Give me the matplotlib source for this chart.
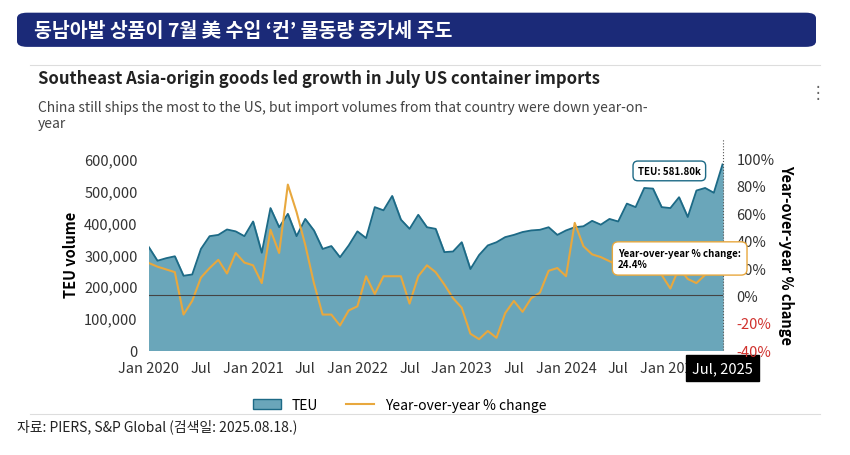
import matplotlib
matplotlib.use("Agg")
import matplotlib.pyplot as plt
from matplotlib.patches import FancyBboxPatch, Patch
from matplotlib.lines import Line2D
import numpy as np

plt.rcParams['font.family'] = ['Noto Sans CJK KR', 'DejaVu Sans']

teu = [323, 280, 288, 294, 233, 237, 317, 357, 361, 378, 372, 357,
       403, 305, 445, 385, 427, 357, 411, 375, 317, 326, 291, 328,
       372, 351, 448, 438, 483, 409, 380, 424, 385, 380, 307, 309,
       338, 254, 298, 328, 338, 354, 361, 370, 375, 377, 385, 361,
       375, 385, 388, 405, 393, 411, 403, 459, 448, 508, 506, 448,
       445, 479, 417, 500, 508, 493, 581.8]
yoy = [23.7, 21, 19, 17, -14, -4, 13, 20, 26, 16, 31, 24,
       22, 9, 48, 31, 81, 61, 37, 9, -14, -14, -22, -11,
       -8, 14, 1, 14, 14, 14, -6, 14, 22, 17, 8, -2,
       -9, -28, -32, -26, -31, -13, -4, -12, -2, 2, 18, 20,
       14, 53, 36, 30, 28, 25, 22, 25, 20, 27, 20, 15,
       5, 20, 12, 9, 15, 20, 24.4]
tick_pos = [0, 6, 12, 18, 24, 30, 36, 42, 48, 54, 60, 66]
tick_labels = ["Jan 2020", "Jul", "Jan 2021", "Jul", "Jan 2022", "Jul", "Jan 2023", "Jul",
               "Jan 2024", "Jul", "Jan 2025", "Jul, 2025"]

x = np.arange(len(teu))
teu_v = np.array(teu) * 1000

fig = plt.figure(figsize=(8.5, 4.56), dpi=100)
fig.add_artist(FancyBboxPatch((0.02, 0.895), 0.94, 0.075, boxstyle="round,pad=0,rounding_size=0.012",
                              transform=fig.transFigure, facecolor="#1b2a78", edgecolor="none"))
fig.text(0.04, 0.932, "동남아발 상품이 7월 美 수입 ‘컨’ 물동량 증가세 주도", color="white",
         fontsize=14, fontweight="bold", va="center", ha="left")

fig.text(0.045, 0.815, "Southeast Asia-origin goods led growth in July US container imports",
         fontsize=12, fontweight="bold", color="#222222")
fig.text(0.045, 0.72, "China still ships the most to the US, but import volumes from that country were down year-on-\nyear",
         fontsize=10, color="#444444", linespacing=1.15)
fig.text(0.952, 0.785, "⋮", fontsize=12, color="#666666")

ax = fig.add_axes([0.175, 0.23, 0.675, 0.42])
ax.fill_between(x, teu_v, 0, color="#6aa6ba")
ax.plot(x, teu_v, color="#1d6a86", lw=1.3)
ax.set_ylim(0, 600000)
ax.set_xlim(0, len(teu) - 1)
ax.set_yticks(np.arange(0, 600001, 100000))
ax.set_yticklabels([f"{v:,}" for v in range(0, 600001, 100000)], fontsize=10.5, color="#333333")
ax.set_ylabel("TEU volume", fontsize=10.5, fontweight="bold")
ax.set_xticks(tick_pos)
ax.set_xticklabels(tick_labels, fontsize=10.5, color="#333333")
for s in ax.spines.values():
    s.set_visible(False)
ax.tick_params(length=0)
ax.tick_params(axis='x', pad=8)
ax.tick_params(axis='y', pad=8)
ax.axvline(len(teu) - 1, color="#555555", lw=0.8, ls=":", clip_on=False, ymin=0, ymax=1.1)

ax2 = ax.twinx()
ax2.plot(x, yoy, color="#e8a83e", lw=1.5)
ax2.set_ylim(-40, 100)
ax2.set_yticks(np.arange(-40, 101, 20))
ax2.set_yticklabels([f"{v}%" for v in range(-40, 101, 20)], fontsize=10.5)
for t, v in zip(ax2.get_yticklabels(), range(-40, 101, 20)):
    t.set_color("#d0312d" if v < 0 else "#333333")
ax2.axhline(0, color="#444444", lw=0.8)
ax2.set_ylabel("Year-over-year % change", fontsize=10.5, fontweight="bold", rotation=270, labelpad=14)
for s in ax2.spines.values():
    s.set_visible(False)
ax2.tick_params(length=0, pad=10)

ax2.annotate("TEU: 581.80k", xy=(len(teu) - 1, 91), xytext=(len(teu) - 3.5, 91),
             fontsize=7, fontweight="bold", ha="right", va="center",
             bbox=dict(boxstyle="round,pad=0.5", fc="white", ec="#1d6a86"))
ax2.annotate("Year-over-year % change:\n24.4%", xy=(len(teu) - 1, 24.4), xytext=(len(teu) - 13, 27),
             fontsize=7, fontweight="bold", ha="left", va="center",
             bbox=dict(boxstyle="round,pad=0.6", fc="white", ec="#e8a83e"))
lbls = ax.get_xticklabels()
lbls[-1].set_color("white")
lbls[-1].set_bbox(dict(boxstyle="square,pad=0.4", fc="black", ec="black"))

fig.legend([Patch(fc="#6aa6ba", ec="#1d6a86"), Line2D([], [], color="#e8a83e", lw=1.5)],
           ["TEU", "Year-over-year % change"], loc="center", bbox_to_anchor=(0.47, 0.11),
           ncol=2, frameon=False, fontsize=10)
fig.text(0.02, 0.055, "자료: PIERS, S&P Global (검색일: 2025.08.18.)", fontsize=10, color="#222222")
fig.add_artist(Line2D([0.035, 0.965], [0.855, 0.855], color="#dddddd", lw=0.8))
fig.add_artist(Line2D([0.035, 0.965], [0.09, 0.09], color="#dddddd", lw=0.8))
fig.savefig("out.png", dpi=100)
